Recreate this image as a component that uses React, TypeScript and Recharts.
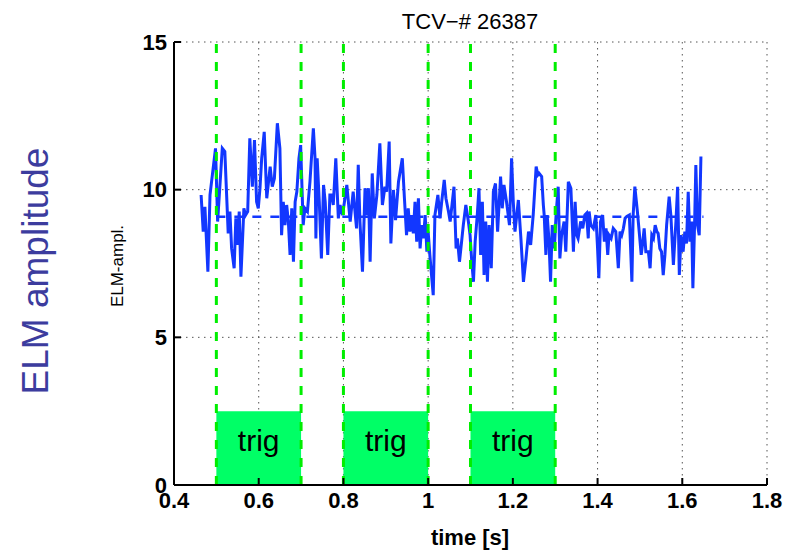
import React from 'react';
import {
  ComposedChart,
  Line,
  XAxis,
  YAxis,
  CartesianGrid,
  ReferenceLine,
  ReferenceArea,
} from 'recharts';

// ELM amplitude trace, TCV shot 26387
const time = [
  0.464, 0.469, 0.473, 0.48, 0.485, 0.498, 0.503, 0.514, 0.52, 0.528, 0.532, 0.536, 0.542, 0.546, 0.55,
  0.554, 0.558, 0.565, 0.569, 0.574, 0.579, 0.585, 0.59, 0.595, 0.599, 0.603, 0.607, 0.613, 0.619, 0.627,
  0.632, 0.637, 0.644, 0.65, 0.654, 0.658, 0.662, 0.666, 0.67, 0.674, 0.678, 0.682, 0.686, 0.69, 0.695,
  0.699, 0.705, 0.709, 0.715, 0.721, 0.729, 0.733, 0.735, 0.738, 0.743, 0.748, 0.753, 0.757, 0.763, 0.768,
  0.772, 0.776, 0.782, 0.788, 0.792, 0.798, 0.808, 0.816, 0.823, 0.831, 0.835, 0.839, 0.845, 0.851, 0.855,
  0.859, 0.863, 0.868, 0.873, 0.879, 0.886, 0.892, 0.898, 0.902, 0.908, 0.912, 0.918, 0.923, 0.93, 0.939,
  0.944, 0.949, 0.953, 0.957, 0.961, 0.965, 0.969, 0.973, 0.977, 0.981, 0.985, 0.989, 0.993, 0.997, 1.0,
  1.004, 1.008, 1.012, 1.016, 1.023, 1.028, 1.032, 1.038, 1.042, 1.048, 1.052, 1.061, 1.066, 1.069, 1.074,
  1.079, 1.083, 1.089, 1.095, 1.099, 1.103, 1.107, 1.111, 1.116, 1.12, 1.124, 1.128, 1.132, 1.136, 1.14,
  1.144, 1.149, 1.154, 1.159, 1.164, 1.171, 1.175, 1.179, 1.185, 1.192, 1.197, 1.201, 1.205, 1.213, 1.219,
  1.225, 1.231, 1.237, 1.242, 1.248, 1.255, 1.259, 1.262, 1.268, 1.272, 1.274, 1.278, 1.281, 1.285, 1.289,
  1.293, 1.298, 1.302, 1.307, 1.311, 1.315, 1.321, 1.325, 1.331, 1.337, 1.343, 1.347, 1.351, 1.354, 1.36,
  1.365, 1.37, 1.374, 1.378, 1.38, 1.384, 1.39, 1.396, 1.4, 1.403, 1.407, 1.412, 1.416, 1.42, 1.424,
  1.427, 1.432, 1.437, 1.443, 1.449, 1.453, 1.457, 1.461, 1.465, 1.469, 1.475, 1.481, 1.484, 1.488, 1.494,
  1.499, 1.503, 1.506, 1.51, 1.514, 1.52, 1.524, 1.528, 1.532, 1.536, 1.54, 1.543, 1.547, 1.551, 1.555,
  1.559, 1.563, 1.569, 1.573, 1.579, 1.585, 1.589, 1.593, 1.597, 1.602, 1.606, 1.61, 1.614, 1.618, 1.622,
  1.625, 1.629, 1.632, 1.636, 1.64, 1.644,
];

const amplitude = [
  9.82, 8.58, 9.42, 7.22, 9.82, 11.4, 8.92, 11.4, 11.29, 8.52, 9.26, 8.01, 7.34, 9.03, 8.13,
  9.26, 7.05, 9.37, 9.14, 9.26, 11.74, 10.1, 11.68, 9.59, 9.37, 10.05, 11.06, 11.96, 9.71, 10.78,
  10.1, 10.38, 12.25, 11.4, 8.46, 9.59, 8.8, 9.48, 8.92, 7.79, 9.37, 7.56, 9.59, 9.93, 11.06,
  11.51, 8.8, 9.37, 9.26, 10.27, 12.08, 11.06, 8.35, 11.06, 9.59, 7.67, 10.16, 9.59, 7.79, 9.82,
  9.82, 9.48, 11.06, 9.03, 9.48, 9.14, 10.16, 8.92, 9.93, 8.69, 10.84, 8.92, 7.22, 10.05, 9.14,
  10.05, 7.56, 10.55, 9.03, 9.82, 11.57, 9.48, 10.1, 9.93, 11.63, 8.18, 9.99, 8.97, 10.27, 11.06,
  9.71, 8.46, 9.37, 8.58, 9.14, 8.52, 9.59, 8.24, 9.71, 8.01, 8.8, 8.35, 9.14, 7.9, 8.58,
  7.79, 7.11, 6.43, 9.14, 9.82, 9.03, 9.59, 10.33, 9.71, 9.26, 8.92, 10.1, 8.01, 8.35, 7.56,
  8.24, 8.8, 9.48, 8.92, 8.46, 7.56, 6.88, 8.24, 9.14, 10.05, 7.79, 9.59, 7.11, 8.92, 6.88,
  8.8, 7.34, 9.93, 10.21, 8.58, 10.44, 9.37, 10.16, 9.59, 8.8, 11.06, 9.59, 8.58, 9.65, 8.35,
  6.88, 7.67, 8.58, 8.13, 9.14, 10.78, 10.5, 10.55, 10.44, 9.48, 9.14, 7.79, 9.14, 8.35, 6.88,
  8.8, 8.01, 9.14, 10.1, 7.67, 8.46, 8.92, 7.9, 10.27, 10.05, 7.9, 9.59, 8.46, 8.35, 8.92,
  8.69, 9.14, 9.2, 8.35, 9.26, 8.8, 8.69, 9.14, 8.01, 7.0, 8.92, 9.14, 8.24, 8.69, 7.79,
  8.46, 8.35, 8.69, 8.58, 7.34, 8.58, 8.46, 8.69, 9.03, 9.09, 9.14, 6.88, 9.14, 10.1, 9.26,
  8.46, 7.79, 8.13, 8.69, 7.9, 7.9, 7.34, 8.46, 8.35, 8.8, 8.58, 8.52, 8.01, 7.9, 7.11,
  7.79, 8.8, 9.76, 9.14, 7.45, 8.92, 10.1, 7.11, 8.46, 7.9, 8.58, 8.18, 9.93, 8.24, 8.92,
  6.66, 8.8, 10.83, 8.8, 8.46, 11.12,
];

const X_TICKS = [0.4, 0.6, 0.8, 1, 1.2, 1.4, 1.6, 1.8];
const Y_TICKS = [0, 5, 10, 15];

// trigger windows [start, end] in s
const triggerStart = [0.5, 0.8, 1.1];
const triggerEnd = [0.7, 1.0, 1.3];
const TRIGGER_LEVEL = 2.5;

// mean amplitude over the triggered period
const MEAN_LEVEL = 9.08;
const MEAN_START = 0.5;
const MEAN_END = 1.65;

const W = 790;
const H = 552;
const FONT = '"Liberation Sans", Arial, Helvetica, sans-serif';
const BLUE = '#1237ff';
const GREEN_LINE = '#00ee00';
const GREEN_BOX = '#00ff66';

const rows = time.map((t, i) => ({ t, amp: amplitude[i] }));

export default function App() {
  return (
    <div style={{ position: 'absolute', left: 0, top: 0, width: W, height: H, background: '#fff' }}>
      <ComposedChart
        width={W}
        height={H}
        data={rows}
        margin={{ top: 42, right: 23, bottom: 0, left: 0 }}
      >
        <CartesianGrid stroke="#555" strokeDasharray="1.5 4.5" strokeWidth={1} />
        <XAxis
          dataKey="t"
          type="number"
          domain={[0.4, 1.8]}
          ticks={X_TICKS}
          height={67}
          tickSize={-7}
          tickMargin={14}
          axisLine={{ stroke: '#000', strokeWidth: 2 }}
          tickLine={{ stroke: '#000', strokeWidth: 2 }}
          tick={{ fontSize: 22, fontWeight: 'bold', fill: '#000', fontFamily: FONT }}
          allowDataOverflow
        />
        <XAxis
          xAxisId="top"
          orientation="top"
          type="number"
          domain={[0.4, 1.8]}
          ticks={X_TICKS}
          height={0}
          tickSize={-7}
          tick={false}
          axisLine={{ stroke: '#000', strokeWidth: 2 }}
          tickLine={{ stroke: '#000', strokeWidth: 2 }}
        />
        <YAxis
          type="number"
          domain={[0, 15]}
          ticks={Y_TICKS}
          width={174}
          tickSize={-7}
          tickMargin={14}
          axisLine={{ stroke: '#000', strokeWidth: 2 }}
          tickLine={{ stroke: '#000', strokeWidth: 2 }}
          tick={{ fontSize: 22, fontWeight: 'bold', fill: '#000', fontFamily: FONT }}
        />
        <YAxis
          yAxisId="right"
          orientation="right"
          type="number"
          domain={[0, 15]}
          ticks={Y_TICKS}
          width={0}
          tickSize={-7}
          tick={false}
          axisLine={{ stroke: '#000', strokeWidth: 2 }}
          tickLine={{ stroke: '#000', strokeWidth: 2 }}
        />

        {triggerStart.map((x1, i) => (
          <ReferenceArea
            key={`trig-${i}`}
            x1={x1}
            x2={triggerEnd[i]}
            y1={0}
            y2={TRIGGER_LEVEL}
            fill={GREEN_BOX}
            fillOpacity={1}
            stroke="none"
            label={{ value: 'trig', position: 'insideTop', offset: 19, fontSize: 30, fill: '#000', fontFamily: FONT }}
          />
        ))}

        <Line
          dataKey="amp"
          type="linear"
          stroke={BLUE}
          strokeWidth={3}
          dot={false}
          activeDot={false}
          isAnimationActive={false}
        />

        <ReferenceLine
          segment={[
            { x: MEAN_START, y: MEAN_LEVEL },
            { x: MEAN_END, y: MEAN_LEVEL },
          ]}
          stroke={BLUE}
          strokeWidth={2.5}
          strokeDasharray="9 9"
        />

        {[...triggerStart, ...triggerEnd].map((x) => (
          <ReferenceLine
            key={`edge-${x}`}
            x={x}
            stroke={GREEN_LINE}
            strokeWidth={3}
            strokeDasharray="9 9"
          />
        ))}
      </ComposedChart>

      <svg
        width={W}
        height={H}
        style={{ position: 'absolute', left: 0, top: 0, pointerEvents: 'none' }}
        fontFamily={FONT}
      >
        <text x={470} y={29} textAnchor="middle" fontSize={22} fill="#000">
          TCV−# 26387
        </text>
        <text x={470} y={545} textAnchor="middle" fontSize={22} fontWeight="bold" fill="#000">
          time [s]
        </text>
        <text
          transform="translate(123 266) rotate(-90)"
          textAnchor="middle"
          fontSize={17}
          fill="#000"
        >
          ELM-ampl.
        </text>
        <text
          transform="translate(48 271) rotate(-90)"
          textAnchor="middle"
          fontSize={37}
          fill="#3c3c9e"
        >
          ELM amplitude
        </text>
      </svg>
    </div>
  );
}
